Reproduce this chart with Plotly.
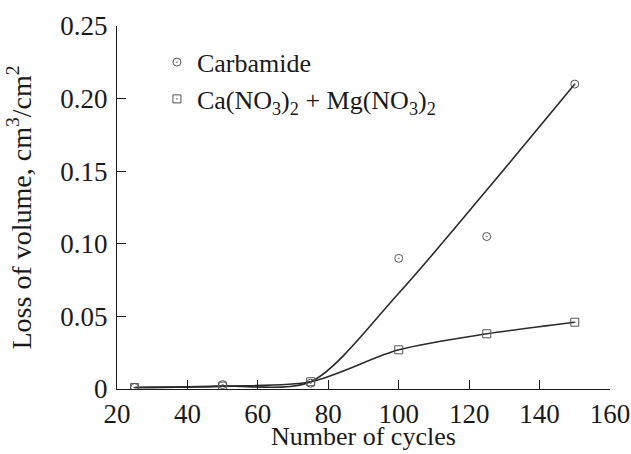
import plotly.graph_objects as go

cycles = [25, 50, 75, 100, 125, 150]
carbamide = [0.001, 0.003, 0.004, 0.090, 0.105, 0.210]
ca_mg = [0.001, 0.002, 0.005, 0.027, 0.038, 0.046]

# smoothed fit curves
carbamide_fit = [0.001, 0.002, 0.005, 0.066, 0.137, 0.210]
ca_mg_fit = [0.001, 0.002, 0.005, 0.027, 0.038, 0.046]

y_ticks = [0, 0.05, 0.10, 0.15, 0.20, 0.25]
y_tick_labels = ["0", "0.05", "0.10", "0.15", "0.20", "0.25"]
x_ticks = [20, 40, 60, 80, 100, 120, 140, 160]
x_title = "Number of cycles"

font_family = "Liberation Serif, Times New Roman, serif"
line_col = "#2a2a2a"
mark_col = "#555555"

fig = go.Figure()
fig.add_trace(go.Scatter(x=cycles, y=carbamide_fit, mode="lines", line=dict(color=line_col, width=1.6, shape="spline", smoothing=0.8), showlegend=False, hoverinfo="skip"))
fig.add_trace(go.Scatter(x=cycles, y=ca_mg_fit, mode="lines", line=dict(color=line_col, width=1.6, shape="spline", smoothing=0.8), showlegend=False, hoverinfo="skip"))
fig.add_trace(go.Scatter(x=cycles, y=carbamide, mode="markers", name="Carbamide",
                         marker=dict(symbol="circle-open-dot", size=8, color=mark_col, line=dict(width=1, color=mark_col))))
fig.add_trace(go.Scatter(x=cycles, y=ca_mg, mode="markers", name="Ca(NO<sub>3</sub>)<sub>2</sub> + Mg(NO<sub>3</sub>)<sub>2</sub>",
                         marker=dict(symbol="square-open-dot", size=8, color=mark_col, line=dict(width=1, color=mark_col))))

fig.add_annotation(text=x_title, xref="paper", yref="paper", x=0.5, y=-0.13,
                   xanchor="center", yanchor="middle", showarrow=False, borderpad=0,
                   font=dict(size=26, family=font_family, color="#1a1a1a"))

fig.update_layout(
    width=631, height=454,
    margin=dict(l=117, r=21, t=26, b=65),
    paper_bgcolor="white", plot_bgcolor="white",
    font=dict(family=font_family, size=27, color="#1a1a1a"),
    legend=dict(x=0.081, y=0.965, xanchor="left", yanchor="top", bgcolor="rgba(0,0,0,0)",
                font=dict(size=26), itemwidth=30, tracegroupgap=0),
    xaxis=dict(range=[20, 160], tickvals=x_ticks, ticks="inside", ticklen=9, tickcolor="#1a1a1a",
               showline=True, linecolor="#1a1a1a", linewidth=1.2, showgrid=False, zeroline=False,
               automargin=False),
    yaxis=dict(range=[0, 0.25], tickvals=y_ticks, ticktext=y_tick_labels, ticks="inside", ticklen=9,
               tickcolor="#1a1a1a", showline=True, linecolor="#1a1a1a", linewidth=1.2, showgrid=False,
               zeroline=False, ticklabelstandoff=3, automargin=False,
               title=dict(text="Loss of volume, cm<sup>3</sup>/cm<sup>2</sup>", standoff=20, font=dict(size=28))),
)

fig.write_html("out.html")
